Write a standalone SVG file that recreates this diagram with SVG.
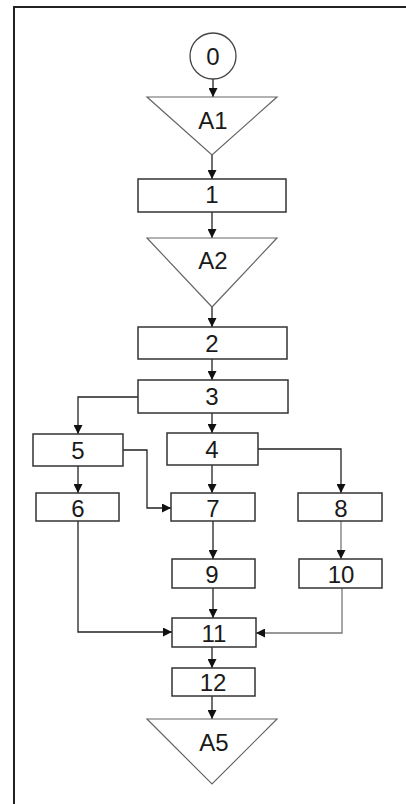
<svg xmlns="http://www.w3.org/2000/svg" width="406" height="804" viewBox="0 0 406 804">
<style>
.frame{fill:none;stroke:#222;stroke-width:2}
.box{fill:#fff;stroke:#333;stroke-width:1.5}
.tri{fill:#fff;stroke:#666;stroke-width:1.2}
.circ{fill:#fff;stroke:#444;stroke-width:1.3}
.lbl{font-family:"Liberation Sans",Arial,sans-serif;font-size:24px;fill:#1a1a1a;text-anchor:middle}
.con{fill:none;stroke:#222;stroke-width:1.3}
.gray{stroke:#777}
</style>
<defs>
<marker id="arr" viewBox="0 0 10 10" markerUnits="userSpaceOnUse" markerWidth="9" markerHeight="9" refX="10" refY="5" orient="auto">
<path d="M0,0 L10,5 L0,10 z" fill="#111"/>
</marker>
</defs>
<rect class="frame" x="14" y="7" width="400" height="805"/>
<g id="connectors">
<line class="con" x1="213" y1="79" x2="213" y2="97" marker-end="url(#arr)"/>
<line class="con" x1="212" y1="155" x2="212" y2="179" marker-end="url(#arr)"/>
<line class="con" x1="212" y1="212" x2="212" y2="238" marker-end="url(#arr)"/>
<line class="con" x1="212" y1="307" x2="212" y2="327" marker-end="url(#arr)"/>
<line class="con" x1="212" y1="359" x2="212" y2="380" marker-end="url(#arr)"/>
<line class="con" x1="212" y1="413" x2="212" y2="433" marker-end="url(#arr)"/>
<polyline class="con" points="138,397 78,397 78,434" marker-end="url(#arr)"/>
<line class="con" x1="78" y1="466" x2="78" y2="493" marker-end="url(#arr)"/>
<polyline class="con" points="123,450 147,450 147,508 171,508" marker-end="url(#arr)"/>
<line class="con" x1="212" y1="465" x2="212" y2="493" marker-end="url(#arr)"/>
<polyline class="con" points="258,449 341,449 341,493" marker-end="url(#arr)"/>
<line class="con" x1="213" y1="521" x2="213" y2="559" marker-end="url(#arr)"/>
<line class="con gray" x1="341" y1="521" x2="341" y2="559" marker-end="url(#arr)"/>
<line class="con" x1="213" y1="588" x2="213" y2="618" marker-end="url(#arr)"/>
<polyline class="con" points="78,521 78,632 172,632" marker-end="url(#arr)"/>
<polyline class="con gray" points="342,588 342,633 256,633" marker-end="url(#arr)"/>
<line class="con" x1="212" y1="647" x2="212" y2="668" marker-end="url(#arr)"/>
<line class="con" x1="212" y1="696" x2="212" y2="719" marker-end="url(#arr)"/>
</g>
<g id="n0"><circle class="circ" cx="213" cy="56" r="23"/><text class="lbl" x="213" y="65">0</text></g>
<g id="nA1"><polygon class="tri" points="147,97 277,97 212,155"/><text class="lbl" x="213" y="129">A1</text></g>
<g id="n1"><rect class="box" x="138" y="179" width="148" height="33"/><text class="lbl" x="212" y="203">1</text></g>
<g id="nA2"><polygon class="tri" points="147,238 277,238 212,307"/><text class="lbl" x="213" y="269">A2</text></g>
<g id="n2"><rect class="box" x="138" y="327" width="149" height="32"/><text class="lbl" x="212" y="352">2</text></g>
<g id="n3"><rect class="box" x="138" y="380" width="150" height="33"/><text class="lbl" x="212" y="405">3</text></g>
<g id="n5"><rect class="box" x="33" y="434" width="90" height="32"/><text class="lbl" x="78" y="459">5</text></g>
<g id="n4"><rect class="box" x="167" y="433" width="91" height="32"/><text class="lbl" x="212" y="458">4</text></g>
<g id="n6"><rect class="box" x="36" y="493" width="83" height="28"/><text class="lbl" x="78" y="517">6</text></g>
<g id="n7"><rect class="box" x="171" y="493" width="84" height="28"/><text class="lbl" x="213" y="517">7</text></g>
<g id="n8"><rect class="box" x="298" y="493" width="84" height="28"/><text class="lbl" x="341" y="517">8</text></g>
<g id="n9"><rect class="box" x="172" y="559" width="83" height="29"/><text class="lbl" x="212" y="583">9</text></g>
<g id="n10"><rect class="box" x="299" y="559" width="83" height="29"/><text class="lbl" x="341" y="583">10</text></g>
<g id="n11"><rect class="box" x="172" y="618" width="84" height="29"/><text class="lbl" x="214" y="642">11</text></g>
<g id="n12"><rect class="box" x="172" y="668" width="83" height="28"/><text class="lbl" x="213" y="691">12</text></g>
<g id="nA5"><polygon class="tri" points="147,719 277,719 212,784"/><text class="lbl" x="214" y="751">A5</text></g>
</svg>
